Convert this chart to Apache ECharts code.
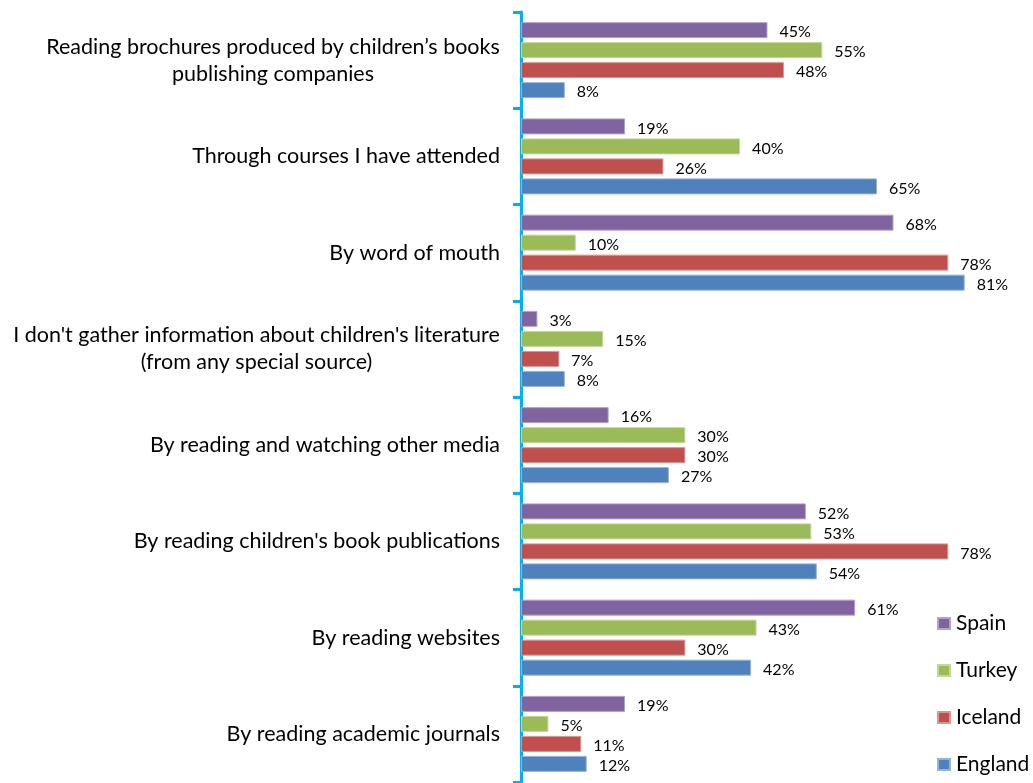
<!DOCTYPE html>
<html><head><meta charset="utf-8">
<script src="https://cdn.jsdelivr.net/npm/echarts@6/dist/echarts.min.js"></script>
<style>html,body{margin:0;padding:0;background:#fff}#c{width:1033px;height:783px}</style>
</head><body><div id="c"></div>
<script>
const categories = [
  "Reading brochures produced by children\u2019s books\npublishing companies",
  "Through courses I have attended",
  "By word of mouth",
  "I don't gather information about children's literature\n(from any special source)",
  "By reading and watching other media",
  "By reading children's book publications",
  "By reading websites",
  "By reading academic journals"
];
const seriesNames = ["Spain", "Turkey", "Iceland", "England"];
const spain   = [45, 19, 68, 3, 16, 52, 61, 19];
const turkey  = [55, 40, 10, 15, 30, 53, 43, 5];
const iceland = [48, 26, 78, 7, 30, 78, 30, 11];
const england = [8, 65, 81, 8, 27, 54, 42, 12];

const FONT = 'Lato';
const CAT_FS = 21.5;
const colors = ['#8064A2', '#9BBB59', '#C0504D', '#4F81BD'];
const borders = ['#B3A2C7', '#C3D69B', '#D99694', '#95B3D7'];

// measure widths for centering wrapped lines
const cv = document.createElement('canvas').getContext('2d');
cv.font = CAT_FS + 'px ' + FONT;
const rich = {};
const labelMap = {};
categories.forEach((c, i) => {
  const lines = c.split('\n');
  if (lines.length > 1) {
    const w = Math.max(...lines.map(l => cv.measureText(l).width));
    rich['c' + i] = { width: Math.ceil(w), align: 'center', fontFamily: FONT, fontSize: CAT_FS, color: '#000', lineHeight: 27 };
    labelMap[c] = lines.map(l => '{c' + i + '|' + l + '}').join('\n');
  } else {
    labelMap[c] = c;
  }
});

const data = [spain, turkey, iceland, england];
const chart = echarts.init(document.getElementById('c'), null, { renderer: 'canvas' });
chart.setOption({
  animation: false,
  grid: { left: 521, top: 12, width: 493, height: 770 },
  legend: {
    orient: 'vertical', left: 937, top: 613, padding: 0,
    itemWidth: 12, itemHeight: 11, itemGap: 26,
    icon: 'rect',
    textStyle: { fontFamily: FONT, fontSize: 21, color: '#000', lineHeight: 21, padding: [0, 0, 0, 1] },
    data: seriesNames
  },
  xAxis: {
    type: 'value', min: 0, max: 90, show: false
  },
  yAxis: {
    type: 'category', inverse: true, data: categories,
    axisLine: { show: true, lineStyle: { color: '#00B0F0', width: 3 } },
    axisTick: { show: true, length: 8, lineStyle: { color: '#00B0F0', width: 3 } },
    axisLabel: {
      margin: 21, fontFamily: FONT, fontSize: CAT_FS, color: '#000', lineHeight: 27,
      formatter: v => labelMap[v], rich: rich
    }
  },
  series: data.map((d, i) => ({
    name: seriesNames[i], type: 'bar', data: d,
    barWidth: 16, barGap: '25%',
    itemStyle: { color: colors[i], borderColor: borders[i], borderWidth: 1 },
    label: {
      show: true, position: 'right', distance: 12, offset: [0, 2],
      formatter: '{c}%', fontFamily: FONT, fontSize: 16, color: '#000'
    }
  }))
});
</script></body></html>
